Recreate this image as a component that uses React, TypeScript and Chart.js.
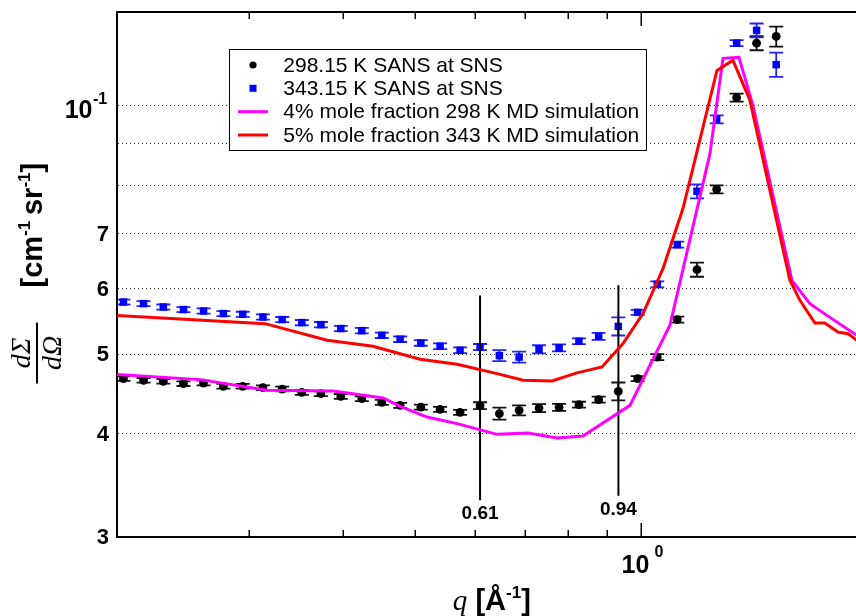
import React, { useEffect, useRef } from 'react';
import { Chart, registerables } from 'chart.js';

Chart.register(...registerables);

// ---- data ----
const Q = [0.2040, 0.2170, 0.2306, 0.2453, 0.2609, 0.2773, 0.2943, 0.3131, 0.3322, 0.3528, 0.3741, 0.3977, 0.4242, 0.4511, 0.4772, 0.5085, 0.5395, 0.5737, 0.6100, 0.6473, 0.6878, 0.7311, 0.7776, 0.8265, 0.8781, 0.9327, 0.9899, 1.0513, 1.1180, 1.1878, 1.2617, 1.3414, 1.4264, 1.5150];

const SANS_298 = [0.04669, 0.04647, 0.04634, 0.04604, 0.04612, 0.04570, 0.04570, 0.04553, 0.04535, 0.04493, 0.04477, 0.04443, 0.04415, 0.04370, 0.04333, 0.04312, 0.04285, 0.04249, 0.04329, 0.04234, 0.04273, 0.04300, 0.04309, 0.04341, 0.04403, 0.04506, 0.04669, 0.04959, 0.05506, 0.06330, 0.07923, 0.10234, 0.11916, 0.12143];
const ERR_298 = [0.0003, 0.0003, 0.0003, 0.0003, 0.0003, 0.0003, 0.0003, 0.0003, 0.0003, 0.0003, 0.0003, 0.0003, 0.0003, 0.0003, 0.0003, 0.0003, 0.0003, 0.0003, 0.00042, 0.00071, 0.0006, 0.00048, 0.00042, 0.00036, 0.00037, 0.00113, 0.00033, 0.00042, 0.00046, 0.00124, 0.00089, 0.00114, 0.00233, 0.00339];

const SANS_343 = [0.05783, 0.05757, 0.05703, 0.05662, 0.05640, 0.05599, 0.05588, 0.05546, 0.05506, 0.05460, 0.05429, 0.05370, 0.05339, 0.05270, 0.05212, 0.05158, 0.05111, 0.05054, 0.05100, 0.04979, 0.04959, 0.05068, 0.05087, 0.05183, 0.05255, 0.05403, 0.05619, 0.06076, 0.06788, 0.07879, 0.09634, 0.11916, 0.12349, 0.11223];
const ERR_343 = [0.0004, 0.0004, 0.0004, 0.0004, 0.0004, 0.0004, 0.0004, 0.0004, 0.0004, 0.0004, 0.0004, 0.0004, 0.0004, 0.0004, 0.0004, 0.0004, 0.0004, 0.0004, 0.00043, 0.00076, 0.00076, 0.00057, 0.0005, 0.00043, 0.00051, 0.00136, 0.00039, 0.00051, 0.00057, 0.00154, 0.00108, 0.001, 0.0024, 0.0038];

const MD298_Q = [0.2001, 0.2582, 0.3172, 0.3884, 0.4529, 0.4772, 0.5184, 0.5683, 0.6427, 0.7069, 0.7727, 0.8368, 0.9667, 1.0930, 1.2359, 1.2865, 1.3511, 1.4103, 1.5897, 1.6803, 1.7701, 1.9588];
const MD298_I = [0.04722, 0.04656, 0.04519, 0.04510, 0.04423, 0.04321, 0.04194, 0.04118, 0.03996, 0.04010, 0.03955, 0.03977, 0.04333, 0.05419, 0.08752, 0.11422, 0.11453, 0.10017, 0.06144, 0.05757, 0.05571, 0.05240];

const MD343_Q = [0.2001, 0.3152, 0.3814, 0.4391, 0.4772, 0.5074, 0.5683, 0.6427, 0.6962, 0.7608, 0.8215, 0.8872, 0.9463, 1.0062, 1.0699, 1.1376, 1.2630, 1.3265, 1.3973, 1.5800, 1.6293, 1.7061, 1.7588, 1.8308, 1.8880, 1.9590];
const MD343_I = [0.05571, 0.05444, 0.05197, 0.05110, 0.05004, 0.04928, 0.04860, 0.04735, 0.04647, 0.04638, 0.04745, 0.04823, 0.05149, 0.05599, 0.06348, 0.07508, 0.11044, 0.11359, 0.10159, 0.06144, 0.05810, 0.05454, 0.05454, 0.05318, 0.05294, 0.05167];

const VLINE_Q = [0.61, 0.933];
const VLINE_LOW = [0.03324, 0.03366];
const VLINE_HIGH = [0.0589, 0.0606];
const VLINE_TEXT = ['0.61', '0.94'];

const LEGEND_LABELS = [
  '298.15 K SANS at SNS',
  '343.15 K SANS at SNS',
  '4% mole fraction 298 K MD simulation',
  '5% mole fraction 343 K MD simulation',
];

const X_MIN = 0.2;
const X_MAX = 1.9357;
const Y_MIN = 0.03;
const Y_MAX = 0.13;
const Y_GRID = [0.04, 0.05, 0.06, 0.07, 0.08, 0.09, 0.1];
const Y_LABEL_VALUES = [0.03, 0.04, 0.05, 0.06, 0.07];
const Y_LABEL_TEXT = ['3', '4', '5', '6', '7'];
const X_MINOR_TICKS = [0.2, 0.3, 0.4, 0.5, 0.6, 0.7, 0.8, 0.9];
const X_MAJOR_TICKS = [1];

const SANS = '"Liberation Sans", Arial, Helvetica, sans-serif';
const SERIF = '"Liberation Serif", "Times New Roman", serif';

type Run = { t: string; f: string; dy: number };

function runsWidth(ctx: CanvasRenderingContext2D, runs: Run[]) {
  let w = 0;
  for (const r of runs) {
    ctx.font = r.f;
    w += ctx.measureText(r.t).width;
  }
  return w;
}

function drawRuns(ctx: CanvasRenderingContext2D, runs: Run[], x: number, y: number) {
  let cx = x;
  ctx.textAlign = 'left';
  ctx.textBaseline = 'alphabetic';
  for (const r of runs) {
    ctx.font = r.f;
    ctx.fillText(r.t, cx, y + r.dy);
    cx += ctx.measureText(r.t).width;
  }
}

const decorPlugin = {
  id: 'decor',
  beforeDatasetsDraw(chart: any) {
    const { ctx, chartArea, scales } = chart;
    const x = scales.x;
    const y = scales.y;
    ctx.save();
    ctx.beginPath();
    ctx.rect(chartArea.left, chartArea.top, chartArea.right - chartArea.left, chartArea.bottom - chartArea.top);
    ctx.clip();
    const bars = (vals: number[], errs: number[], color: string) => {
      ctx.strokeStyle = color;
      ctx.lineWidth = 1.8;
      for (let i = 0; i < Q.length; i++) {
        const px = x.getPixelForValue(Q[i]);
        const lo = y.getPixelForValue(vals[i] - errs[i]);
        const hi = y.getPixelForValue(vals[i] + errs[i]);
        ctx.beginPath();
        ctx.moveTo(px, lo);
        ctx.lineTo(px, hi);
        ctx.moveTo(px - 7, lo);
        ctx.lineTo(px + 7, lo);
        ctx.moveTo(px - 7, hi);
        ctx.lineTo(px + 7, hi);
        ctx.stroke();
      }
    };
    bars(SANS_298, ERR_298, '#111111');
    bars(SANS_343, ERR_343, '#2222ff');
    ctx.restore();
  },
  afterDraw(chart: any) {
    const { ctx, chartArea, scales } = chart;
    const x = scales.x;
    const y = scales.y;
    const { left, right, top, bottom } = chartArea;
    ctx.save();
    ctx.fillStyle = '#000';
    ctx.strokeStyle = '#000';

    // top frame line
    ctx.lineWidth = 2;
    ctx.beginPath();
    ctx.moveTo(left - 1, top);
    ctx.lineTo(right, top);
    ctx.stroke();

    // inward x ticks (bottom and top)
    ctx.lineWidth = 1.5;
    const tick = (v: number, len: number) => {
      const px = Math.round(x.getPixelForValue(v)) + 0.25;
      ctx.beginPath();
      ctx.moveTo(px, bottom);
      ctx.lineTo(px, bottom - len);
      ctx.moveTo(px, top);
      ctx.lineTo(px, top + len);
      ctx.stroke();
    };
    X_MINOR_TICKS.forEach((v) => tick(v, 7));
    X_MAJOR_TICKS.forEach((v) => tick(v, 14));

    // y tick labels
    ctx.textBaseline = 'middle';
    ctx.textAlign = 'right';
    ctx.font = `bold 22px ${SANS}`;
    Y_LABEL_VALUES.forEach((v, i) => {
      ctx.fillText(Y_LABEL_TEXT[i], left - 8, y.getPixelForValue(v) + 1);
    });
    const p01 = y.getPixelForValue(0.1);
    ctx.font = `bold 25px ${SANS}`;
    ctx.fillText('10', left - 24.5, p01 + 5);
    ctx.textAlign = 'left';
    ctx.font = `bold 16px ${SANS}`;
    ctx.fillText('-1', left - 24, p01 - 6);

    // x tick label 10^0
    const p1 = x.getPixelForValue(1);
    ctx.font = `bold 25px ${SANS}`;
    ctx.fillText('10', p1 - 19.5, bottom + 29);
    ctx.font = `bold 16px ${SANS}`;
    ctx.fillText('0', p1 + 13.5, bottom + 16);

    // annotation labels
    ctx.textAlign = 'center';
    ctx.font = `bold 19px ${SANS}`;
    VLINE_Q.forEach((q, i) => {
      ctx.fillText(VLINE_TEXT[i], x.getPixelForValue(q), y.getPixelForValue(VLINE_LOW[i]) + 13.5);
    });

    // x title
    const xRuns: Run[] = [
      { t: 'q', f: `italic 29px ${SERIF}`, dy: 0 },
      { t: ' [Å', f: `bold 29px ${SANS}`, dy: 0 },
      { t: '-1', f: `bold 17px ${SANS}`, dy: -12 },
      { t: ']', f: `bold 29px ${SANS}`, dy: 0 },
    ];
    const fullRight = x.getPixelForValue(2);
    const xc = (left + fullRight) / 2;
    drawRuns(ctx, xRuns, xc - runsWidth(ctx, xRuns) / 2, 610);

    // y title (rotated)
    ctx.save();
    ctx.translate(37, (top + bottom) / 2);
    ctx.rotate(-Math.PI / 2);
    ctx.textAlign = 'center';
    ctx.textBaseline = 'alphabetic';
    ctx.font = `italic 28px ${SERIF}`;
    ctx.fillText('dΣ', -78.5, -7);
    ctx.fillText('dΩ', -78.5, 24);
    ctx.fillRect(-109, -1, 61, 2);
    const yRuns: Run[] = [
      { t: '[cm', f: `bold 29px ${SANS}`, dy: 0 },
      { t: '-1', f: `bold 17px ${SANS}`, dy: -12 },
      { t: '\u2009sr', f: `bold 29px ${SANS}`, dy: 0 },
      { t: '-1', f: `bold 17px ${SANS}`, dy: -12 },
      { t: ']', f: `bold 29px ${SANS}`, dy: 0 },
    ];
    drawRuns(ctx, yRuns, -13, 5);
    ctx.restore();

    // legend
    const lx = 229.5, ly = 49.5, lw = 417, lh = 101;
    ctx.fillStyle = '#fff';
    ctx.fillRect(lx, ly, lw, lh);
    ctx.strokeStyle = '#000';
    ctx.lineWidth = 1;
    ctx.strokeRect(lx, ly, lw, lh);
    const rowY = [65, 88.3, 111.7, 135];
    const mx = 253;
    ctx.fillStyle = '#000';
    ctx.beginPath();
    ctx.arc(mx, rowY[0], 3.6, 0, Math.PI * 2);
    ctx.fill();
    ctx.fillStyle = '#0000ff';
    ctx.fillRect(mx - 3.5, rowY[1] - 3.5, 7, 7);
    ctx.lineWidth = 3;
    ctx.strokeStyle = '#ff00ff';
    ctx.beginPath();
    ctx.moveTo(238, rowY[2]);
    ctx.lineTo(268, rowY[2]);
    ctx.stroke();
    ctx.strokeStyle = '#ff0000';
    ctx.beginPath();
    ctx.moveTo(238, rowY[3]);
    ctx.lineTo(268, rowY[3]);
    ctx.stroke();
    ctx.fillStyle = '#000';
    ctx.textAlign = 'left';
    ctx.textBaseline = 'middle';
    ctx.font = `21px ${SANS}`;
    LEGEND_LABELS.forEach((t, i) => ctx.fillText(t, 283.3, rowY[i] + 1));

    ctx.restore();
  },
};

export default function App() {
  const canvasRef = useRef<HTMLCanvasElement | null>(null);

  useEffect(() => {
    const canvas = canvasRef.current;
    if (!canvas) return;
    const lineData = (qs: number[], is: number[]) => qs.map((q, i) => ({ x: q, y: is[i] }));
    const chart = new Chart(canvas, {
      type: 'scatter',
      data: {
        datasets: [
          {
            label: LEGEND_LABELS[3],
            data: lineData(MD343_Q, MD343_I),
            showLine: true,
            borderColor: '#ff0000',
            backgroundColor: '#ff0000',
            borderWidth: 3,
            pointRadius: 0,
            pointHoverRadius: 0,
            tension: 0,
            order: 0,
          },
          {
            label: LEGEND_LABELS[2],
            data: lineData(MD298_Q, MD298_I),
            showLine: true,
            borderColor: '#ff00ff',
            backgroundColor: '#ff00ff',
            borderWidth: 3,
            pointRadius: 0,
            pointHoverRadius: 0,
            tension: 0,
            order: 1,
          },
          {
            label: 'q = 0.61',
            data: [{ x: VLINE_Q[0], y: VLINE_LOW[0] }, { x: VLINE_Q[0], y: VLINE_HIGH[0] }],
            showLine: true,
            borderColor: '#000',
            borderWidth: 2,
            pointRadius: 0,
            order: 2,
          },
          {
            label: 'q = 0.94',
            data: [{ x: VLINE_Q[1], y: VLINE_LOW[1] }, { x: VLINE_Q[1], y: VLINE_HIGH[1] }],
            showLine: true,
            borderColor: '#000',
            borderWidth: 2,
            pointRadius: 0,
            order: 2,
          },
          {
            label: LEGEND_LABELS[1],
            data: lineData(Q, SANS_343),
            showLine: false,
            pointStyle: 'rect',
            pointRadius: 5.3,
            pointHoverRadius: 5.3,
            pointBackgroundColor: '#0000ff',
            pointBorderWidth: 0,
            order: 3,
          },
          {
            label: LEGEND_LABELS[0],
            data: lineData(Q, SANS_298),
            showLine: false,
            pointStyle: 'circle',
            pointRadius: 4.4,
            pointHoverRadius: 4.4,
            pointBackgroundColor: '#000',
            pointBorderWidth: 0,
            order: 4,
          },
        ],
      },
      options: {
        animation: false,
        responsive: false,
        devicePixelRatio: 1,
        layout: { autoPadding: false, padding: { left: 117, top: 12, right: 0, bottom: 79 } },
        plugins: { legend: { display: false }, tooltip: { enabled: false } },
        events: [],
        scales: {
          x: {
            type: 'logarithmic',
            min: X_MIN,
            max: X_MAX,
            grid: { display: false, drawTicks: false },
            border: { display: true, color: '#000', width: 2 },
            ticks: { display: false },
            title: { display: false },
            afterBuildTicks: (s: any) => {
              s.ticks = X_MINOR_TICKS.concat(X_MAJOR_TICKS).map((v) => ({ value: v }));
            },
          },
          y: {
            type: 'logarithmic',
            min: Y_MIN,
            max: Y_MAX,
            grid: { display: true, drawTicks: false, color: '#222', lineWidth: 1 },
            border: { display: true, color: '#000', width: 2, dash: [1, 3] },
            ticks: { display: false },
            title: { display: false },
            afterBuildTicks: (s: any) => {
              s.ticks = Y_GRID.map((v) => ({ value: v }));
            },
          },
        },
      } as any,
      plugins: [decorPlugin],
    });
    return () => chart.destroy();
  }, []);

  return (
    <div style={{ position: 'fixed', left: 0, top: 0, width: 856, height: 616, background: '#fff' }}>
      <canvas ref={canvasRef} width={856} height={616} style={{ display: 'block', width: 856, height: 616 }} />
    </div>
  );
}
